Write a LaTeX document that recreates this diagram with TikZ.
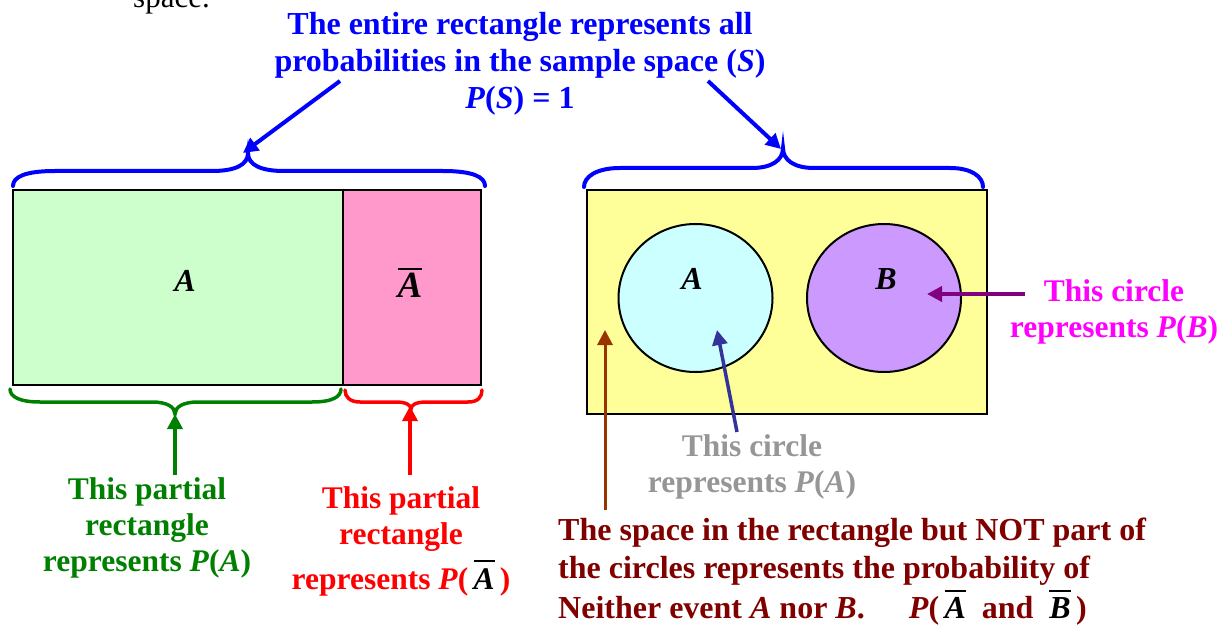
\documentclass[tikz,border=0pt]{standalone}
\usepackage{fontspec}
\setmainfont{Liberation Serif}
\usetikzlibrary{arrows.meta,shapes.geometric}
\definecolor{cblue}{RGB}{0,0,255}
\definecolor{cgreen}{RGB}{0,128,0}
\definecolor{cred}{RGB}{255,0,0}
\definecolor{cgray}{RGB}{150,150,150}
\definecolor{cmag}{RGB}{255,0,255}
\definecolor{cdred}{RGB}{128,0,0}
\definecolor{cbrown}{RGB}{153,51,0}
\definecolor{cnavy}{RGB}{51,51,153}
\definecolor{cpurple}{RGB}{128,0,128}
\definecolor{fgreen}{RGB}{204,255,204}
\definecolor{fpink}{RGB}{255,153,204}
\definecolor{fyellow}{RGB}{255,255,153}
\definecolor{fcyan}{RGB}{204,255,255}
\definecolor{fpurple}{RGB}{204,153,255}
\newcommand\ovl[2][4pt]{\vbox{\hrule height 2pt\kern #1\hbox{#2}}}
\tikzset{
  txt/.style={inner sep=0pt, font=\fontsize{31.5}{36}\selectfont\bfseries},
  ttl/.style={inner sep=0pt, font=\fontsize{32}{37}\selectfont\bfseries},
  lbl/.style={inner sep=0pt, anchor=base, font=\fontsize{32}{36}\selectfont\bfseries\itshape},
  box/.style={draw=black, line width=2pt, inner sep=0pt},
  brc/.style={line width=4pt, line cap=round},
  arr/.style={line width=3.5pt, -{Triangle[length=15pt,width=15pt]}},
}
\begin{document}
\begin{tikzpicture}[x=1pt,y=-1pt]
\useasboundingbox (0,0) rectangle (1228,628);

% left rectangle
\node[box, fill=fgreen, minimum width=330pt, minimum height=195pt] (rA) at (178,287.5) {};
\node[box, fill=fpink, minimum width=138pt, minimum height=195pt] (rAbar) at (412,287.5) {};
\node[lbl] (lA) at (185,291) {A};
\node[lbl, font=\fontsize{37}{40}\selectfont\bfseries\itshape] (lAb) at (410,298) {\ovl[3.5pt]{A}};

% right rectangle
\node[box, fill=fyellow, minimum width=400pt, minimum height=224pt] (rS) at (787,302) {};
\node[box, ellipse, fill=fcyan, minimum width=154pt, minimum height=148pt] (cA) at (695.5,298) {};
\node[box, ellipse, fill=fpurple, minimum width=154pt, minimum height=148pt] (cB) at (884,298) {};
\node[lbl] (lcA) at (692,290) {A};
\node[lbl] (lcB) at (886,290) {B};

% top text
\node[inner sep=0pt, anchor=base west, font=\fontsize{31}{36}\selectfont] (space) at (133,8) {space.};
\node[ttl, text=cblue, align=center, anchor=north] (title) at (520,12)
  {The entire rectangle represents all\\probabilities in the sample space (\textit{S})\\\textit{P}(\textit{S}) = 1};

% braces on top
\draw[brc, cblue] (13,186) .. controls (13,177) and (25,171) .. (55,171) -- (212,171)
  .. controls (235,171) and (248,165) .. (248,153)
  .. controls (248,165) and (261,171) .. (284,171) -- (443,171)
  .. controls (473,171) and (485,177) .. (485,186);
\draw[brc, cblue] (584,187) .. controls (584,177) and (596,168) .. (620,168) -- (752,168)
  .. controls (772,168) and (783,160) .. (783,148)
  .. controls (783,160) and (794,168) .. (814,168) -- (950,168)
  .. controls (972,168) and (983,177) .. (983,187);
\coordinate (tL) at (340,81);
\coordinate (hL) at (243,153);
\coordinate (tR) at (708,81);
\coordinate (hR) at (781,149);
\draw[arr, cblue, line width=4pt] (tL) -- (hL);
\draw[arr, cblue, line width=4pt] (tR) -- (hR);

% braces below
\draw[brc, cgreen, line width=3.5pt] (10,389) .. controls (10,397) and (20,402) .. (40,402) -- (152,402)
  .. controls (167,402) and (175,407) .. (175,414)
  .. controls (175,407) and (183,402) .. (198,402) -- (312,402)
  .. controls (332,402) and (341,397) .. (341,389);
\draw[brc, cred, line width=3.5pt] (345,390) .. controls (345,397) and (350,402) .. (360,402) -- (396,402)
  .. controls (406,402) and (411,405) .. (411,409)
  .. controls (411,405) and (416,402) .. (426,402) -- (468,402)
  .. controls (478,402) and (482,397) .. (482,390);

% green and red labels
\node[txt, text=cgreen, align=center, anchor=north] (gtxt) at (147,477)
  {This partial\\rectangle\\represents \textit{P}(\textit{A})};
\node[txt, text=cred, align=center, anchor=north] (rtxt) at (401,486)
  {This partial\\rectangle\\[9pt]represents \textit{P}(\,{\color{black}\ovl[6pt]{\textit{A}}}\,)};
\coordinate (gT) at (175,475);
\coordinate (gH) at (175,414);
\coordinate (rT) at (410,475);
\coordinate (rH) at (410,406);
\draw[arr, cgreen] (gT) -- (gH);
\draw[arr, cred] (rT) -- (rH);

% right side labels
\node[txt, text=cgray, align=center, anchor=north] (graytxt) at (752,434)
  {This circle\\represents \textit{P}(\textit{A})};
\node[txt, text=cmag, align=center, anchor=north] (magtxt) at (1114,279)
  {This circle\\represents \textit{P}(\textit{B})};
\node[inner sep=0pt, text=cdred, align=left, anchor=north west, font=\fontsize{32}{38}\selectfont\bfseries] (neither) at (558,518)
  {The space in the rectangle but NOT part of\\the circles represents the probability of\\[2pt]Neither event \textit{A} nor \textit{B}.\hspace{44pt}\textit{P}(\,{\color{black}\ovl[6pt]{\textit{A}}}\ \ and\ \ {\color{black}\ovl[6pt]{\textit{B}}}\,)};

\coordinate (nT) at (737,432);
\coordinate (nH) at (717,330);
\coordinate (bT) at (605,510);
\coordinate (bH) at (605,330);
\coordinate (pT) at (1025,294);
\coordinate (pH) at (927,294);
\draw[arr, cnavy] (nT) -- (nH);
\draw[arr, cbrown, line width=3pt] (bT) -- (bH);
\draw[arr, cpurple, line width=4pt] (pT) -- (pH);
\end{tikzpicture}
\end{document}
